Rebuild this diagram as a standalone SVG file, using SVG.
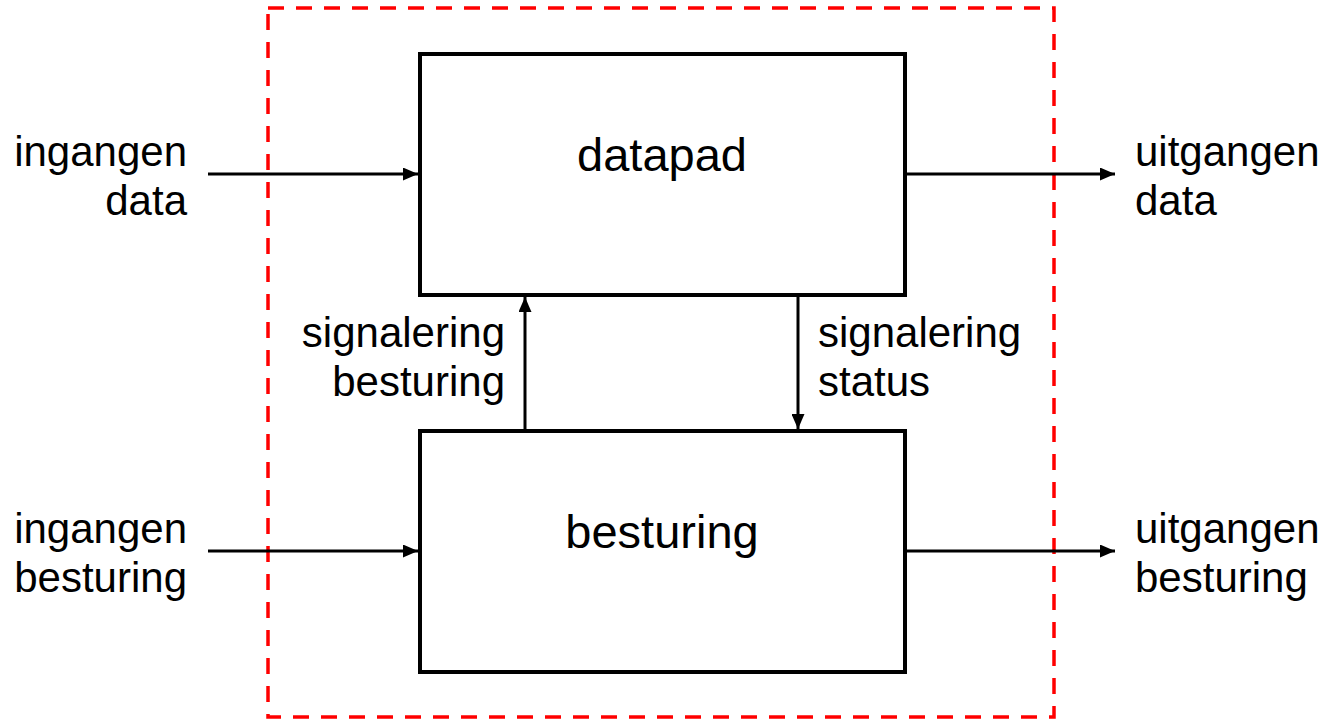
<svg xmlns="http://www.w3.org/2000/svg" width="1328" height="721" viewBox="0 0 1328 721">
<style>
text{font-family:"Liberation Sans",Arial,sans-serif;fill:#000}
.lbl{font-size:42px}
.box{fill:#fff;stroke:#000;stroke-width:4}
.title{font-size:47px;text-anchor:middle}
.conn{stroke:#000;stroke-width:3;fill:none;marker-end:url(#ah)}
.end{text-anchor:end}
</style>
<defs>
<marker id="ah" viewBox="0 0 15 13" refX="15" refY="6.5" markerWidth="15" markerHeight="13" markerUnits="userSpaceOnUse" orient="auto">
<path d="M0,0 L15,6.5 L0,13 z" fill="#000"/>
</marker>
</defs>
<rect x="0" y="0" width="1328" height="721" fill="#fff"/>
<g id="boundary">
<rect x="268" y="8" width="786" height="709" fill="none" stroke="#f00" stroke-width="3.5" stroke-dasharray="16 12"/>
</g>
<g id="datapad">
<rect class="box" x="420" y="54" width="485" height="241"/>
<text class="title" x="662" y="171">datapad</text>
</g>
<g id="besturing">
<rect class="box" x="420" y="431" width="485" height="241"/>
<text class="title" x="662" y="548">besturing</text>
</g>
<g id="connectors">
<line class="conn" x1="208" y1="174" x2="418" y2="174"/>
<line class="conn" x1="907" y1="174" x2="1115" y2="174"/>
<line class="conn" x1="208" y1="551" x2="418" y2="551"/>
<line class="conn" x1="907" y1="551" x2="1115" y2="551"/>
<line class="conn" x1="525" y1="429" x2="525" y2="297"/>
<line class="conn" x1="798" y1="297" x2="798" y2="429"/>
</g>
<g id="labels">
<text class="lbl end" x="187" y="166">ingangen</text>
<text class="lbl end" x="187" y="215">data</text>
<text class="lbl end" x="187" y="543">ingangen</text>
<text class="lbl end" x="187" y="592">besturing</text>
<text class="lbl" x="1135" y="166">uitgangen</text>
<text class="lbl" x="1135" y="215">data</text>
<text class="lbl" x="1135" y="543">uitgangen</text>
<text class="lbl" x="1135" y="592">besturing</text>
<text class="lbl end" x="505" y="347">signalering</text>
<text class="lbl end" x="505" y="396">besturing</text>
<text class="lbl" x="818" y="347">signalering</text>
<text class="lbl" x="818" y="396">status</text>
</g>
</svg>
